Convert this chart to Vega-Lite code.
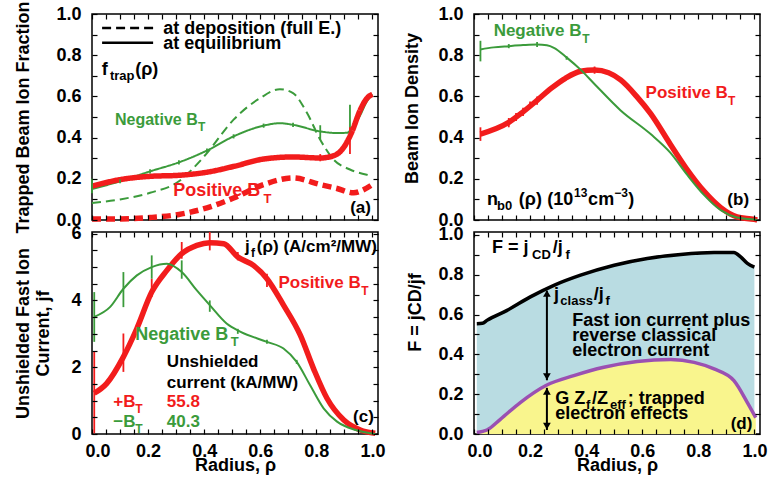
{
 "$schema": "https://vega.github.io/schema/vega-lite/v6.json",
 "background": "white",
 "padding": {"left": 14, "top": 0, "right": 0, "bottom": 0},
 "columns": 2,
 "spacing": {"row": 12, "column": 96},
 "bounds": "flush",
 "config": {
  "font": "Liberation Sans",
  "view": {"stroke": "black", "strokeWidth": 1.5},
  "axis": {"domain": false, "grid": false, "tickColor": "black", "tickWidth": 1.2, "tickSize": -5, "labelFont": "Liberation Sans", "labelFontWeight": "bold", "labelFontSize": 18, "labelColor": "black", "labelPadding": 16, "labelOverlap": false, "titleFont": "Liberation Sans", "titleFontWeight": "bold", "titleFontSize": 18, "titleColor": "black"},
  "text": {"font": "Liberation Sans", "fontWeight": "bold", "baseline": "alphabetic", "align": "left"}
 },
 "datasets": {
  "a_neg": [
   {"x":0,"y":0.083,"type":"at deposition (full E.)"},{"x":0.1,"y":0.1,"type":"at deposition (full E.)"},{"x":0.207,"y":0.132,"type":"at deposition (full E.)"},{"x":0.31,"y":0.188,"type":"at deposition (full E.)"},{"x":0.36,"y":0.25,"type":"at deposition (full E.)"},{"x":0.41,"y":0.325,"type":"at deposition (full E.)"},{"x":0.505,"y":0.487,"type":"at deposition (full E.)"},{"x":0.6,"y":0.592,"type":"at deposition (full E.)"},{"x":0.67,"y":0.635,"type":"at deposition (full E.)"},{"x":0.717,"y":0.616,"type":"at deposition (full E.)"},{"x":0.767,"y":0.519,"type":"at deposition (full E.)"},{"x":0.814,"y":0.39,"type":"at deposition (full E.)"},{"x":0.862,"y":0.293,"type":"at deposition (full E.)"},{"x":0.92,"y":0.245,"type":"at deposition (full E.)"},{"x":0.98,"y":0.22,"type":"at deposition (full E.)"},{"x":1.0,"y":0.215,"type":"at deposition (full E.)"},
   {"x":0,"y":0.15,"type":"at equilibrium"},{"x":0.1,"y":0.188,"type":"at equilibrium"},{"x":0.207,"y":0.236,"type":"at equilibrium"},{"x":0.31,"y":0.28,"type":"at equilibrium"},{"x":0.41,"y":0.337,"type":"at equilibrium"},{"x":0.505,"y":0.406,"type":"at equilibrium"},{"x":0.612,"y":0.458,"type":"at equilibrium"},{"x":0.67,"y":0.47,"type":"at equilibrium"},{"x":0.717,"y":0.462,"type":"at equilibrium"},{"x":0.814,"y":0.43,"type":"at equilibrium"},{"x":0.874,"y":0.422,"type":"at equilibrium"},{"x":0.91,"y":0.424,"type":"at equilibrium"},{"x":0.93,"y":0.45,"type":"at equilibrium"},{"x":0.957,"y":0.51,"type":"at equilibrium"},{"x":0.98,"y":0.575,"type":"at equilibrium"},{"x":1.0,"y":0.61,"type":"at equilibrium"}
  ],
  "a_pos": [
   {"x":0,"y":0.005,"type":"at deposition (full E.)"},{"x":0.1,"y":0.005,"type":"at deposition (full E.)"},{"x":0.207,"y":0.012,"type":"at deposition (full E.)"},{"x":0.31,"y":0.027,"type":"at deposition (full E.)"},{"x":0.41,"y":0.059,"type":"at deposition (full E.)"},{"x":0.505,"y":0.107,"type":"at deposition (full E.)"},{"x":0.612,"y":0.172,"type":"at deposition (full E.)"},{"x":0.717,"y":0.204,"type":"at deposition (full E.)"},{"x":0.814,"y":0.172,"type":"at deposition (full E.)"},{"x":0.874,"y":0.153,"type":"at deposition (full E.)"},{"x":0.933,"y":0.132,"type":"at deposition (full E.)"},{"x":0.97,"y":0.148,"type":"at deposition (full E.)"},{"x":1.0,"y":0.172,"type":"at deposition (full E.)"},
   {"x":0,"y":0.164,"type":"at equilibrium"},{"x":0.1,"y":0.196,"type":"at equilibrium"},{"x":0.207,"y":0.212,"type":"at equilibrium"},{"x":0.31,"y":0.217,"type":"at equilibrium"},{"x":0.41,"y":0.232,"type":"at equilibrium"},{"x":0.505,"y":0.26,"type":"at equilibrium"},{"x":0.612,"y":0.296,"type":"at equilibrium"},{"x":0.717,"y":0.306,"type":"at equilibrium"},{"x":0.814,"y":0.301,"type":"at equilibrium"},{"x":0.862,"y":0.312,"type":"at equilibrium"},{"x":0.9,"y":0.357,"type":"at equilibrium"},{"x":0.925,"y":0.422,"type":"at equilibrium"},{"x":0.957,"y":0.535,"type":"at equilibrium"},{"x":0.98,"y":0.59,"type":"at equilibrium"},{"x":1.0,"y":0.61,"type":"at equilibrium"}
  ],
  "a_key": [
   {"x":0.036,"x2":0.218,"y":0.932,"ty":0.903,"tx":0.254,"type":"at deposition (full E.)"},
   {"x":0.036,"x2":0.218,"y":0.86,"ty":0.831,"tx":0.254,"type":"at equilibrium"}
  ],
  "a_err": [
   {"x":0.0,"y":0.13,"y2":0.2,"series":"Negative"},{"x":0.1,"y":0.178,"y2":0.198,"series":"Negative"},{"x":0.207,"y":0.226,"y2":0.246,"series":"Negative"},{"x":0.31,"y":0.27,"y2":0.29,"series":"Negative"},{"x":0.41,"y":0.327,"y2":0.347,"series":"Negative"},{"x":0.505,"y":0.396,"y2":0.416,"series":"Negative"},{"x":0.612,"y":0.448,"y2":0.468,"series":"Negative"},{"x":0.717,"y":0.452,"y2":0.472,"series":"Negative"},{"x":0.814,"y":0.39,"y2":0.46,"series":"Negative"},{"x":0.92,"y":0.42,"y2":0.56,"series":"Negative"},
   {"x":0.814,"y":0.285,"y2":0.32,"series":"Positive"},{"x":0.92,"y":0.32,"y2":0.45,"series":"Positive"}
  ],
  "b_neg": [
   {"x":0.023,"y":0.828},{"x":0.07,"y":0.838},{"x":0.124,"y":0.844},{"x":0.175,"y":0.849},{"x":0.225,"y":0.852},{"x":0.26,"y":0.848},{"x":0.285,"y":0.836},{"x":0.332,"y":0.787},{"x":0.38,"y":0.73},{"x":0.427,"y":0.664},{"x":0.523,"y":0.532},{"x":0.63,"y":0.417},{"x":0.7,"y":0.327},{"x":0.76,"y":0.22},{"x":0.82,"y":0.122},{"x":0.88,"y":0.048},{"x":0.938,"y":0.012},{"x":1.0,"y":0.002},{"x":1.01,"y":0.0}
  ],
  "b_pos": [
   {"x":0.023,"y":0.417},{"x":0.124,"y":0.474},{"x":0.175,"y":0.525},{"x":0.225,"y":0.581},{"x":0.276,"y":0.64},{"x":0.326,"y":0.688},{"x":0.38,"y":0.722},{"x":0.43,"y":0.728},{"x":0.48,"y":0.715},{"x":0.523,"y":0.68},{"x":0.58,"y":0.6},{"x":0.63,"y":0.516},{"x":0.7,"y":0.368},{"x":0.76,"y":0.245},{"x":0.82,"y":0.14},{"x":0.88,"y":0.06},{"x":0.938,"y":0.015},{"x":1.0,"y":0.003},{"x":1.01,"y":0.0}
  ],
  "b_err": [
   {"x":0.023,"y":0.77,"y2":0.87,"series":"Negative"},{"x":0.124,"y":0.834,"y2":0.854,"series":"Negative"},{"x":0.225,"y":0.84,"y2":0.864,"series":"Negative"},{"x":0.33,"y":0.778,"y2":0.796,"series":"Negative"},
   {"x":0.023,"y":0.384,"y2":0.45,"series":"Positive"},{"x":0.124,"y":0.45,"y2":0.495,"series":"Positive"},{"x":0.15,"y":0.48,"y2":0.52,"series":"Positive"},{"x":0.175,"y":0.505,"y2":0.545,"series":"Positive"},{"x":0.2,"y":0.54,"y2":0.575,"series":"Positive"},{"x":0.225,"y":0.56,"y2":0.6,"series":"Positive"},{"x":0.43,"y":0.71,"y2":0.745,"series":"Positive"},{"x":0.63,"y":0.505,"y2":0.525,"series":"Positive"}
  ],
  "c_pos": [
   {"x":0.008,"y":1.22},{"x":0.052,"y":1.51},{"x":0.112,"y":2.31},{"x":0.16,"y":3.16},{"x":0.213,"y":4.25},{"x":0.267,"y":4.9},{"x":0.32,"y":5.4},{"x":0.374,"y":5.65},{"x":0.42,"y":5.73},{"x":0.47,"y":5.7},{"x":0.52,"y":5.3},{"x":0.576,"y":5.05},{"x":0.624,"y":4.65},{"x":0.683,"y":3.86},{"x":0.743,"y":2.96},{"x":0.79,"y":1.96},{"x":0.838,"y":1.07},{"x":0.898,"y":0.42},{"x":0.957,"y":0.12},{"x":1.01,"y":0.02}
  ],
  "c_neg": [
   {"x":0.008,"y":3.51},{"x":0.064,"y":3.8},{"x":0.112,"y":4.35},{"x":0.16,"y":4.75},{"x":0.213,"y":5.0},{"x":0.267,"y":5.1},{"x":0.32,"y":4.85},{"x":0.374,"y":4.3},{"x":0.42,"y":3.86},{"x":0.48,"y":3.31},{"x":0.53,"y":3.06},{"x":0.624,"y":2.76},{"x":0.683,"y":2.56},{"x":0.73,"y":2.16},{"x":0.778,"y":1.46},{"x":0.826,"y":0.77},{"x":0.874,"y":0.37},{"x":0.94,"y":0.12},{"x":1.01,"y":0.0}
  ],
  "c_err": [
   {"x":0.008,"y":0.02,"y2":2.46,"series":"Positive"},{"x":0.112,"y":1.86,"y2":3.01,"series":"Positive"},{"x":0.213,"y":4.1,"y2":4.65,"series":"Positive"},{"x":0.32,"y":5.25,"y2":5.75,"series":"Positive"},{"x":0.42,"y":5.5,"y2":6.05,"series":"Positive"},{"x":0.52,"y":5.2,"y2":5.45,"series":"Positive"},{"x":0.624,"y":4.4,"y2":4.8,"series":"Positive"},
   {"x":0.008,"y":2.76,"y2":4.25,"series":"Negative"},{"x":0.112,"y":3.8,"y2":4.85,"series":"Negative"},{"x":0.213,"y":4.65,"y2":5.35,"series":"Negative"},{"x":0.32,"y":4.65,"y2":5.2,"series":"Negative"},{"x":0.42,"y":3.66,"y2":4.0,"series":"Negative"},{"x":0.52,"y":3.0,"y2":3.15,"series":"Negative"},{"x":0.624,"y":2.7,"y2":2.82,"series":"Negative"},{"x":0.73,"y":2.1,"y2":2.22,"series":"Negative"}
  ],
  "d_F": [
   {"x":0.01,"y":0.554},{"x":0.03,"y":0.556},{"x":0.046,"y":0.571},{"x":0.118,"y":0.621},{"x":0.201,"y":0.689},{"x":0.285,"y":0.747},{"x":0.38,"y":0.798},{"x":0.5,"y":0.848},{"x":0.618,"y":0.882},{"x":0.737,"y":0.902},{"x":0.856,"y":0.912},{"x":0.927,"y":0.912},{"x":0.951,"y":0.89},{"x":0.975,"y":0.857},{"x":1.0,"y":0.838}
  ],
  "d_G": [
   {"x":0.01,"y":0.007},{"x":0.046,"y":0.02},{"x":0.094,"y":0.074},{"x":0.165,"y":0.158},{"x":0.26,"y":0.246},{"x":0.356,"y":0.293},{"x":0.463,"y":0.335},{"x":0.582,"y":0.364},{"x":0.701,"y":0.374},{"x":0.785,"y":0.36},{"x":0.856,"y":0.327},{"x":0.927,"y":0.268},{"x":0.975,"y":0.158},{"x":1.005,"y":0.082}
  ]
 },
 "concat": [
  {
   "width": 286, "height": 206,
   "layer": [
    {
     "encoding": {
      "x": {"field": "x", "type": "quantitative", "scale": {"domain": [0, 1.02], "nice": false, "zero": false}, "axis": {"values": [0,0.05,0.1,0.15,0.2,0.25,0.3,0.35,0.4,0.45,0.5,0.55,0.6,0.65,0.7,0.75,0.8,0.85,0.9,0.95,1], "labels": false, "title": null, "zindex": 1}},
      "y": {"field": "y", "type": "quantitative", "scale": {"domain": [0, 1], "nice": false, "zero": false}, "axis": {"values": [0,0.1,0.2,0.3,0.4,0.5,0.6,0.7,0.8,0.9,1], "labelExpr": "round(datum.value*10) % 2 == 0 ? format(datum.value, '.1f') : ''", "title": "Trapped Beam Ion Fraction", "titlePadding": 23, "zindex": 1}}
     },
     "layer": [
      {"data": {"name": "a_neg"}, "mark": {"type": "line", "color": "#3b9b3b", "strokeWidth": 2, "interpolate": "monotone"},
       "encoding": {"strokeDash": {"field": "type", "type": "nominal", "scale": {"domain": ["at deposition (full E.)", "at equilibrium"], "range": [[9, 5], [1, 0]]}, "legend": null}}},
      {"data": {"name": "a_pos"}, "mark": {"type": "line", "color": "#f21c1c", "strokeWidth": 5.5, "interpolate": "monotone"},
       "encoding": {"strokeDash": {"field": "type", "type": "nominal", "scale": {"domain": ["at deposition (full E.)", "at equilibrium"], "range": [[9, 5], [1, 0]]}, "legend": null}}},
      {"data": {"name": "a_key"}, "mark": {"type": "rule", "color": "black", "strokeWidth": 2.5},
       "encoding": {"x2": {"field": "x2"}, "strokeDash": {"field": "type", "type": "nominal", "scale": {"domain": ["at deposition (full E.)", "at equilibrium"], "range": [[9, 5], [1, 0]]}, "legend": null}}},
      {"data": {"name": "a_key"}, "mark": {"type": "text", "fontSize": 18, "color": "black"},
       "encoding": {"x": {"field": "tx", "type": "quantitative"}, "y": {"field": "ty", "type": "quantitative"}, "text": {"field": "type"}}},
      {"data": {"name": "a_err"}, "mark": {"type": "rule", "strokeWidth": 1.8},
       "encoding": {"y2": {"field": "y2"}, "color": {"field": "series", "type": "nominal", "scale": {"domain": ["Negative", "Positive"], "range": ["#3b9b3b", "#f21c1c"]}, "legend": null}}},
      {"data": {"values": [{"x": 0.035, "y": 0.705, "text": "f"}, {"x": 0.154, "y": 0.705, "text": "(ρ)"}]}, "mark": {"type": "text", "fontSize": 18, "color": "black"}, "encoding": {"text": {"field": "text"}}},
      {"data": {"values": [{"x": 0.064, "y": 0.68, "text": "trap"}]}, "mark": {"type": "text", "fontSize": 13, "color": "black"}, "encoding": {"text": {"field": "text"}}},
      {"data": {"values": [{"x": 0.082, "y": 0.462, "text": "Negative B"}]}, "mark": {"type": "text", "fontSize": 16, "color": "#3b9b3b"}, "encoding": {"text": {"field": "text"}}},
      {"data": {"values": [{"x": 0.378, "y": 0.43, "text": "T"}]}, "mark": {"type": "text", "fontSize": 12, "color": "#3b9b3b"}, "encoding": {"text": {"field": "text"}}},
      {"data": {"values": [{"x": 0.29, "y": 0.115, "text": "Positive B"}]}, "mark": {"type": "text", "fontSize": 18, "color": "#f21c1c"}, "encoding": {"text": {"field": "text"}}},
      {"data": {"values": [{"x": 0.612, "y": 0.083, "text": "T"}]}, "mark": {"type": "text", "fontSize": 13, "color": "#f21c1c"}, "encoding": {"text": {"field": "text"}}},
      {"data": {"values": [{"x": 0.995, "y": 0.035, "text": "(a)"}]}, "mark": {"type": "text", "fontSize": 17, "color": "black", "align": "right"}, "encoding": {"text": {"field": "text"}}}
     ]
    },
    {"data": {"values": [{"x": 0, "y": 0}]}, "mark": {"type": "point", "opacity": 0},
     "encoding": {
      "x": {"field": "x", "type": "quantitative", "scale": {"domain": [0, 1.02], "nice": false, "zero": false}, "axis": {"orient": "top", "values": [0,0.05,0.1,0.15,0.2,0.25,0.3,0.35,0.4,0.45,0.5,0.55,0.6,0.65,0.7,0.75,0.8,0.85,0.9,0.95,1], "labels": false, "title": null, "zindex": 1}},
      "y": {"field": "y", "type": "quantitative", "scale": {"domain": [0, 1], "nice": false, "zero": false}, "axis": {"orient": "right", "values": [0,0.1,0.2,0.3,0.4,0.5,0.6,0.7,0.8,0.9,1], "labels": false, "title": null, "zindex": 1}}
     }}
   ],
   "resolve": {"axis": {"x": "independent", "y": "independent"}}
  },
  {
   "width": 286, "height": 206,
   "layer": [
    {
     "encoding": {
      "x": {"field": "x", "type": "quantitative", "scale": {"domain": [0, 1.02], "nice": false, "zero": false}, "axis": {"values": [0,0.05,0.1,0.15,0.2,0.25,0.3,0.35,0.4,0.45,0.5,0.55,0.6,0.65,0.7,0.75,0.8,0.85,0.9,0.95,1], "labels": false, "title": null, "zindex": 1}},
      "y": {"field": "y", "type": "quantitative", "scale": {"domain": [0, 1], "nice": false, "zero": false}, "axis": {"values": [0,0.1,0.2,0.3,0.4,0.5,0.6,0.7,0.8,0.9,1], "labelExpr": "round(datum.value*10) % 2 == 0 ? format(datum.value, '.1f') : ''", "title": "Beam Ion Density", "titlePadding": 16, "titleY": 94, "zindex": 1}}
     },
     "layer": [
      {"data": {"name": "b_pos"}, "mark": {"type": "line", "color": "#f21c1c", "strokeWidth": 5.5, "interpolate": "monotone"}},
      {"data": {"name": "b_neg"}, "mark": {"type": "line", "color": "#3b9b3b", "strokeWidth": 2, "interpolate": "monotone"}},
      {"data": {"name": "b_err"}, "mark": {"type": "rule", "strokeWidth": 1.8},
       "encoding": {"y2": {"field": "y2"}, "color": {"field": "series", "type": "nominal", "scale": {"domain": ["Negative", "Positive"], "range": ["#3b9b3b", "#f21c1c"]}, "legend": null}}},
      {"data": {"values": [{"x": 0.07, "y": 0.893, "text": "Negative B"}]}, "mark": {"type": "text", "fontSize": 17, "color": "#3b9b3b"}, "encoding": {"text": {"field": "text"}}},
      {"data": {"values": [{"x": 0.386, "y": 0.86, "text": "T"}]}, "mark": {"type": "text", "fontSize": 12, "color": "#3b9b3b"}, "encoding": {"text": {"field": "text"}}},
      {"data": {"values": [{"x": 0.612, "y": 0.59, "text": "Positive B"}]}, "mark": {"type": "text", "fontSize": 17, "color": "#f21c1c"}, "encoding": {"text": {"field": "text"}}},
      {"data": {"values": [{"x": 0.906, "y": 0.557, "text": "T"}]}, "mark": {"type": "text", "fontSize": 12, "color": "#f21c1c"}, "encoding": {"text": {"field": "text"}}},
      {"data": {"values": [{"x": 0.046, "y": 0.072, "text": "n"}, {"x": 0.16, "y": 0.072, "text": "(ρ)"}, {"x": 0.261, "y": 0.072, "text": "(10"}, {"x": 0.407, "y": 0.072, "text": "cm"}, {"x": 0.55, "y": 0.072, "text": ")"}]}, "mark": {"type": "text", "fontSize": 18, "color": "black"}, "encoding": {"text": {"field": "text"}}},
      {"data": {"values": [{"x": 0.082, "y": 0.048, "text": "b0"}]}, "mark": {"type": "text", "fontSize": 13, "color": "black"}, "encoding": {"text": {"field": "text"}}},
      {"data": {"values": [{"x": 0.357, "y": 0.113, "text": "13"}, {"x": 0.5, "y": 0.113, "text": "−3"}]}, "mark": {"type": "text", "fontSize": 12, "color": "black"}, "encoding": {"text": {"field": "text"}}},
      {"data": {"values": [{"x": 0.981, "y": 0.072, "text": "(b)"}]}, "mark": {"type": "text", "fontSize": 17, "color": "black", "align": "right"}, "encoding": {"text": {"field": "text"}}}
     ]
    },
    {"data": {"values": [{"x": 0, "y": 0}]}, "mark": {"type": "point", "opacity": 0},
     "encoding": {
      "x": {"field": "x", "type": "quantitative", "scale": {"domain": [0, 1.02], "nice": false, "zero": false}, "axis": {"orient": "top", "values": [0,0.05,0.1,0.15,0.2,0.25,0.3,0.35,0.4,0.45,0.5,0.55,0.6,0.65,0.7,0.75,0.8,0.85,0.9,0.95,1], "labels": false, "title": null, "zindex": 1}},
      "y": {"field": "y", "type": "quantitative", "scale": {"domain": [0, 1], "nice": false, "zero": false}, "axis": {"orient": "right", "values": [0,0.1,0.2,0.3,0.4,0.5,0.6,0.7,0.8,0.9,1], "labels": false, "title": null, "zindex": 1}}
     }}
   ],
   "resolve": {"axis": {"x": "independent", "y": "independent"}}
  },
  {
   "width": 286, "height": 202,
   "layer": [
    {
     "encoding": {
      "x": {"field": "x", "type": "quantitative", "scale": {"domain": [0, 1.02], "nice": false, "zero": false}, "axis": {"values": [0,0.05,0.1,0.15,0.2,0.25,0.3,0.35,0.4,0.45,0.5,0.55,0.6,0.65,0.7,0.75,0.8,0.85,0.9,0.95,1], "labelExpr": "round(datum.value*100) % 20 == 0 ? format(datum.value, '.1f') : ''", "labelFlush": true, "labelFlushOffset": 7, "labelPadding": 13, "title": "Radius, ρ", "titlePadding": -4, "zindex": 1}},
      "y": {"field": "y", "type": "quantitative", "scale": {"domain": [0, 6.05], "nice": false, "zero": false}, "axis": {"values": [0,0.5,1,1.5,2,2.5,3,3.5,4,4.5,5,5.5,6], "labelExpr": "datum.value % 2 == 0 ? format(datum.value, 'd') : ''", "title": ["Unshielded Fast Ion", "Current, jf"], "titleLineHeight": 20, "titlePadding": 18, "zindex": 1}}
     },
     "layer": [
      {"data": {"name": "c_pos"}, "mark": {"type": "line", "color": "#f21c1c", "strokeWidth": 5.5, "interpolate": "monotone"}},
      {"data": {"name": "c_neg"}, "mark": {"type": "line", "color": "#3b9b3b", "strokeWidth": 2, "interpolate": "monotone"}},
      {"data": {"name": "c_err"}, "mark": {"type": "rule", "strokeWidth": 1.8},
       "encoding": {"y2": {"field": "y2"}, "color": {"field": "series", "type": "nominal", "scale": {"domain": ["Negative", "Positive"], "range": ["#3b9b3b", "#f21c1c"]}, "legend": null}}},
      {"data": {"values": [{"x": 0.546, "y": 5.45, "text": "j"}, {"x": 0.588, "y": 5.45, "text": "(ρ) (A/cm²/MW)"}, {"x": 0.267, "y": 2.01, "text": "Unshielded"}, {"x": 0.267, "y": 1.37, "text": "current (kA/MW)"}]}, "mark": {"type": "text", "fontSize": 17, "color": "black"}, "encoding": {"text": {"field": "text"}}},
      {"data": {"values": [{"x": 0.567, "y": 5.3, "text": "f"}]}, "mark": {"type": "text", "fontSize": 12, "color": "black"}, "encoding": {"text": {"field": "text"}}},
      {"data": {"values": [{"x": 0.665, "y": 4.36, "text": "Positive B"}, {"x": 0.076, "y": 0.82, "text": "+B"}, {"x": 0.267, "y": 0.82, "text": "55.8"}]}, "mark": {"type": "text", "fontSize": 17, "color": "#f21c1c"}, "encoding": {"text": {"field": "text"}}},
      {"data": {"values": [{"x": 0.96, "y": 4.16, "text": "T"}, {"x": 0.154, "y": 0.62, "text": "T"}]}, "mark": {"type": "text", "fontSize": 12, "color": "#f21c1c"}, "encoding": {"text": {"field": "text"}}},
      {"data": {"values": [{"x": 0.154, "y": 2.81, "text": "Negative B"}]}, "mark": {"type": "text", "fontSize": 18, "color": "#3b9b3b"}, "encoding": {"text": {"field": "text"}}},
      {"data": {"values": [{"x": 0.495, "y": 2.64, "text": "T"}]}, "mark": {"type": "text", "fontSize": 13, "color": "#3b9b3b"}, "encoding": {"text": {"field": "text"}}},
      {"data": {"values": [{"x": 0.076, "y": 0.22, "text": "−B"}, {"x": 0.267, "y": 0.22, "text": "40.3"}]}, "mark": {"type": "text", "fontSize": 17, "color": "#3b9b3b"}, "encoding": {"text": {"field": "text"}}},
      {"data": {"values": [{"x": 0.154, "y": 0.02, "text": "T"}]}, "mark": {"type": "text", "fontSize": 12, "color": "#3b9b3b"}, "encoding": {"text": {"field": "text"}}},
      {"data": {"values": [{"x": 1.005, "y": 0.37, "text": "(c)"}]}, "mark": {"type": "text", "fontSize": 17, "color": "black", "align": "right"}, "encoding": {"text": {"field": "text"}}}
     ]
    },
    {"data": {"values": [{"x": 0, "y": 0}]}, "mark": {"type": "point", "opacity": 0},
     "encoding": {
      "x": {"field": "x", "type": "quantitative", "scale": {"domain": [0, 1.02], "nice": false, "zero": false}, "axis": {"orient": "top", "values": [0,0.05,0.1,0.15,0.2,0.25,0.3,0.35,0.4,0.45,0.5,0.55,0.6,0.65,0.7,0.75,0.8,0.85,0.9,0.95,1], "labels": false, "title": null, "zindex": 1}},
      "y": {"field": "y", "type": "quantitative", "scale": {"domain": [0, 6.05], "nice": false, "zero": false}, "axis": {"orient": "right", "values": [0,0.5,1,1.5,2,2.5,3,3.5,4,4.5,5,5.5,6], "labels": false, "title": null, "zindex": 1}}
     }}
   ],
   "resolve": {"axis": {"x": "independent", "y": "independent"}}
  },
  {
   "width": 286, "height": 202,
   "layer": [
    {
     "encoding": {
      "x": {"field": "x", "type": "quantitative", "scale": {"domain": [0, 1.02], "nice": false, "zero": false}, "axis": {"values": [0,0.05,0.1,0.15,0.2,0.25,0.3,0.35,0.4,0.45,0.5,0.55,0.6,0.65,0.7,0.75,0.8,0.85,0.9,0.95,1], "labelExpr": "round(datum.value*100) % 20 == 0 ? format(datum.value, '.1f') : ''", "labelFlush": true, "labelFlushOffset": 7, "labelPadding": 13, "title": "Radius, ρ", "titlePadding": -4, "zindex": 1}},
      "y": {"field": "y", "type": "quantitative", "scale": {"domain": [0, 1.015], "nice": false, "zero": false}, "axis": {"values": [0,0.1,0.2,0.3,0.4,0.5,0.6,0.7,0.8,0.9,1], "labelExpr": "round(datum.value*10) % 2 == 0 ? format(datum.value, '.1f') : ''", "title": "F = jCD/jf", "titlePadding": 13, "titleY": 80, "zindex": 1}}
     },
     "layer": [
      {"data": {"name": "d_F"}, "mark": {"type": "area", "color": "#b9dce2", "interpolate": "monotone"}},
      {"data": {"name": "d_G"}, "mark": {"type": "area", "color": "#f9f58d", "interpolate": "monotone"}},
      {"data": {"name": "d_F"}, "mark": {"type": "line", "color": "black", "strokeWidth": 3.5, "interpolate": "monotone"}},
      {"data": {"name": "d_G"}, "mark": {"type": "line", "color": "#9b50b2", "strokeWidth": 3.5, "interpolate": "monotone"}},
      {"data": {"values": [{"x": 0.26, "y": 0.27, "y2": 0.72}, {"x": 0.26, "y": 0.02, "y2": 0.232}]}, "mark": {"type": "rule", "color": "black", "strokeWidth": 2}, "encoding": {"y2": {"field": "y2"}}},
      {"data": {"values": [{"x": 0.26, "y": 0.706, "dir": "up"}, {"x": 0.26, "y": 0.288, "dir": "down"}, {"x": 0.26, "y": 0.214, "dir": "up"}, {"x": 0.26, "y": 0.04, "dir": "down"}]}, "mark": {"type": "point", "filled": true, "opacity": 1, "color": "black", "size": 60}, "encoding": {"shape": {"field": "dir", "type": "nominal", "scale": {"domain": ["up", "down"], "range": ["triangle-up", "triangle-down"]}, "legend": null}}},
      {"data": {"values": [{"x": 0.064, "y": 0.908, "text": "F = j"}, {"x": 0.281, "y": 0.908, "text": "/j"}, {"x": 0.285, "y": 0.672, "text": "j"}, {"x": 0.427, "y": 0.672, "text": "/j"}, {"x": 0.29, "y": 0.15, "text": "G Z"}, {"x": 0.421, "y": 0.15, "text": "/Z"}, {"x": 0.548, "y": 0.15, "text": "; trapped"}, {"x": 0.29, "y": 0.074, "text": "electron effects"}]}, "mark": {"type": "text", "fontSize": 18, "color": "black"}, "encoding": {"text": {"field": "text"}}},
      {"data": {"values": [{"x": 0.207, "y": 0.879, "text": "CD"}, {"x": 0.326, "y": 0.879, "text": "f"}, {"x": 0.308, "y": 0.646, "text": "class"}, {"x": 0.469, "y": 0.646, "text": "f"}, {"x": 0.399, "y": 0.125, "text": "f"}, {"x": 0.485, "y": 0.125, "text": "eff"}]}, "mark": {"type": "text", "fontSize": 13, "color": "black"}, "encoding": {"text": {"field": "text"}}},
      {"data": {"values": [{"x": 0.35, "y": 0.545, "text": "Fast ion current plus\nreverse classical\nelectron current"}]}, "mark": {"type": "text", "fontSize": 18, "color": "black", "lineBreak": "\n", "lineHeight": 15}, "encoding": {"text": {"field": "text"}}},
      {"data": {"values": [{"x": 0.993, "y": 0.024, "text": "(d)"}]}, "mark": {"type": "text", "fontSize": 17, "color": "black", "align": "right"}, "encoding": {"text": {"field": "text"}}}
     ]
    },
    {"data": {"values": [{"x": 0, "y": 0}]}, "mark": {"type": "point", "opacity": 0},
     "encoding": {
      "x": {"field": "x", "type": "quantitative", "scale": {"domain": [0, 1.02], "nice": false, "zero": false}, "axis": {"orient": "top", "values": [0,0.05,0.1,0.15,0.2,0.25,0.3,0.35,0.4,0.45,0.5,0.55,0.6,0.65,0.7,0.75,0.8,0.85,0.9,0.95,1], "labels": false, "title": null, "zindex": 1}},
      "y": {"field": "y", "type": "quantitative", "scale": {"domain": [0, 1.015], "nice": false, "zero": false}, "axis": {"orient": "right", "values": [0,0.1,0.2,0.3,0.4,0.5,0.6,0.7,0.8,0.9,1], "labels": false, "title": null, "zindex": 1}}
     }}
   ],
   "resolve": {"axis": {"x": "independent", "y": "independent"}}
  }
 ]
}
